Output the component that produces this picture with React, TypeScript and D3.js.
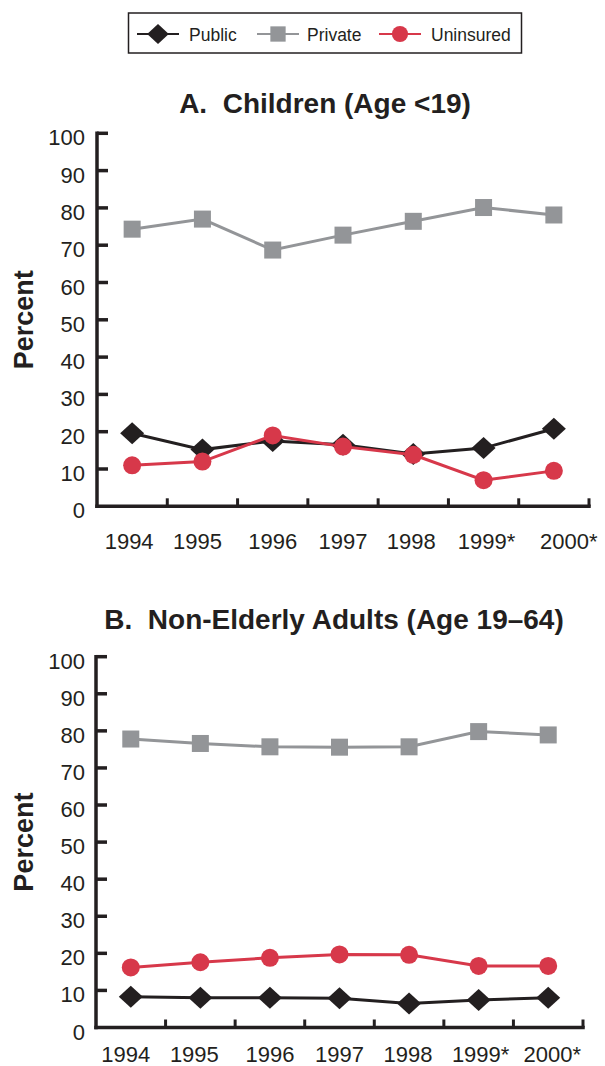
import React from "react";
import * as d3 from "d3";

const years = ["1994", "1995", "1996", "1997", "1998", "1999*", "2000*"];
const yTicks = [0, 10, 20, 30, 40, 50, 60, 70, 80, 90, 100];

const childPublic = [19.6, 15.2, 17.5, 16.5, 14.0, 15.6, 20.8];
const childPrivate = [74.3, 77.0, 68.7, 72.7, 76.4, 80.1, 78.1];
const childUninsured = [11.0, 12.0, 19.0, 16.0, 13.8, 7.0, 9.5];

const adultPublic = [8.3, 8.0, 8.0, 7.9, 6.5, 7.4, 8.0];
const adultPrivate = [77.8, 76.6, 75.7, 75.6, 75.7, 79.8, 78.9];
const adultUninsured = [16.2, 17.6, 18.8, 19.7, 19.6, 16.6, 16.6];

const seriesNames = ["Public", "Private", "Uninsured"];

const BLACK = "#231f20";
const GRAY = "#939598";
const RED = "#d7384a";
const FONT = "'Liberation Sans', Arial, Helvetica, sans-serif";

type PanelProps = {
  title: string;
  titleX: number;
  titleY: number;
  x0: number;
  x1: number;
  yTop: number;
  yBottom: number;
  labelY: number;
  labelDx: number[];
  pub: number[];
  priv: number[];
  unins: number[];
};

function Marker({ kind, x, y, s = 1 }: { kind: string; x: number; y: number; s?: number }) {
  if (kind === "Public") {
    const w = 12 * s, h = 11 * s;
    return <path d={`M${x - w},${y}L${x},${y - h}L${x + w},${y}L${x},${y + h}Z`} fill={BLACK} />;
  }
  if (kind === "Private") {
    const a = 8.5 * s;
    return <rect x={x - a} y={y - a} width={2 * a} height={2 * a} fill={GRAY} />;
  }
  return <circle cx={x} cy={y} r={9 * s} fill={RED} />;
}

function Panel(p: PanelProps) {
  const x = d3.scaleBand<string>().domain(years).range([p.x0, p.x1]);
  const y = d3.scaleLinear().domain([0, 100]).range([p.yBottom, p.yTop]);
  const cx = (yr: string) => (x(yr) as number) + x.bandwidth() / 2;
  const line = d3
    .line<number>()
    .x((_, i) => cx(years[i]))
    .y((v) => y(v));
  const series = [
    { name: "Private", vals: p.priv, color: GRAY },
    { name: "Public", vals: p.pub, color: BLACK },
    { name: "Uninsured", vals: p.unins, color: RED },
  ];
  const midY = (y(0) + y(100)) / 2;
  return (
    <g>
      <text x={p.titleX} y={p.titleY} textAnchor="middle" fontSize={28} fontWeight="bold" fill={BLACK} fontFamily={FONT} style={{ whiteSpace: "pre" }}>
        {p.title}
      </text>
      <text
        transform={`translate(33,${midY}) rotate(-90)`}
        textAnchor="middle"
        fontSize={27}
        fontWeight="bold"
        fill={BLACK}
        fontFamily={FONT}
      >
        Percent
      </text>
      {/* y axis */}
      <line x1={p.x0} x2={p.x0} y1={y(100)} y2={y(0)} stroke={BLACK} strokeWidth={3.5} strokeLinecap="square" />
      {yTicks.map((t) => (
        <g key={t}>
          {t > 0 && <line x1={p.x0} x2={p.x0 + 11} y1={y(t)} y2={y(t)} stroke={BLACK} strokeWidth={3.5} />}
          <text x={85} y={y(t) + 12} textAnchor="end" fontSize={22} fill={BLACK} fontFamily={FONT}>
            {t}
          </text>
        </g>
      ))}
      {/* x axis */}
      <line x1={p.x0} x2={p.x1} y1={y(0)} y2={y(0)} stroke={BLACK} strokeWidth={3.5} strokeLinecap="square" />
      {years.map((yr) => (
        <line
          key={yr}
          x1={(x(yr) as number) + x.bandwidth()}
          x2={(x(yr) as number) + x.bandwidth()}
          y1={y(0)}
          y2={y(0) - 8}
          stroke={BLACK}
          strokeWidth={3}
        />
      ))}
      {years.map((yr, i) => (
        <text key={yr} x={cx(yr) + p.labelDx[i]} y={p.labelY} textAnchor="middle" fontSize={22} fill={BLACK} fontFamily={FONT}>
          {yr}
        </text>
      ))}
      {series.map((s) => (
        <g key={s.name}>
          <path d={line(s.vals) || ""} fill="none" stroke={s.color} strokeWidth={3} />
          {s.vals.map((v, i) => (
            <Marker key={i} kind={s.name} x={cx(years[i])} y={y(v)} />
          ))}
        </g>
      ))}
    </g>
  );
}

function Legend() {
  const items = [
    { name: seriesNames[0], color: BLACK, lx: 137, tx: 189 },
    { name: seriesNames[1], color: GRAY, lx: 257, tx: 307 },
    { name: seriesNames[2], color: RED, lx: 379, tx: 431 },
  ];
  const cy = 34;
  return (
    <g>
      <rect x={128.5} y={13} width={393} height={40} fill="white" stroke={BLACK} strokeWidth={1.5} />
      {items.map((it) => (
        <g key={it.name}>
          <line x1={it.lx} x2={it.lx + 42} y1={cy} y2={cy} stroke={it.color} strokeWidth={2} />
          <Marker kind={it.name} x={it.lx + 21} y={cy} s={0.9} />
          <text x={it.tx} y={cy + 6.5} fontSize={17.5} fill={BLACK} fontFamily={FONT}>
            {it.name}
          </text>
        </g>
      ))}
    </g>
  );
}

export default function App() {
  return (
    <svg width={605} height={1066} style={{ position: "absolute", left: 0, top: 0, background: "white" }}>
      <rect x={0} y={0} width={605} height={1066} fill="white" />
      <Legend />
      <Panel
        title={"A.  Children (Age <19)"}
        titleX={325}
        titleY={113}
        x0={97}
        x1={589}
        yTop={133.3}
        yBottom={506.3}
        labelY={549}
        labelDx={[-3, -5, 0, 0, -2, 3, 15]}
        pub={childPublic}
        priv={childPrivate}
        unins={childUninsured}
      />
      <Panel
        title={"B.  Non-Elderly Adults (Age 19\u201364)"}
        titleX={334}
        titleY={629}
        x0={96}
        x1={583}
        yTop={656.7}
        yBottom={1027.5}
        labelY={1062}
        labelDx={[-5, -6, 0, 0, -1, 2, 4]}
        pub={adultPublic}
        priv={adultPrivate}
        unins={adultUninsured}
      />
    </svg>
  );
}
